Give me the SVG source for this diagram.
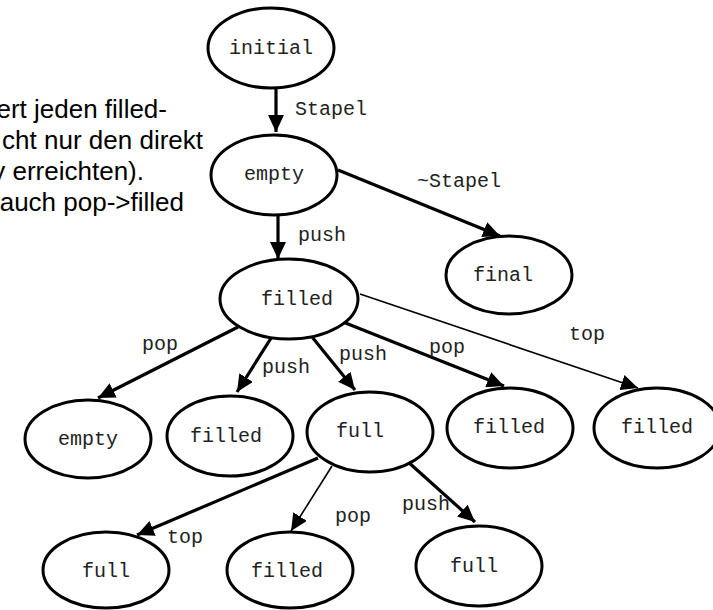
<svg xmlns="http://www.w3.org/2000/svg" width="713" height="610" viewBox="0 0 713 610">
  <style>
    .node ellipse { fill: #fff; stroke: #000; stroke-width: 3; }
    .node text, .lbl { font-family: "Liberation Mono", "Courier New", monospace; font-size: 20px; fill: #222; }
    .node text { text-anchor: middle; }
    .edge { stroke: #000; fill: none; marker-end: url(#head); }
    .thick { stroke-width: 3.2; }
    .thin { stroke-width: 1.6; }
    .note { font-family: "Liberation Sans", Arial, sans-serif; font-size: 26px; fill: #000; text-anchor: end; }
  </style>
  <defs>
    <marker id="head" markerUnits="userSpaceOnUse" markerWidth="18" markerHeight="16" refX="17" refY="8" orient="auto">
      <path d="M0,0 L17,8 L0,16 z" fill="#000"/>
    </marker>
  </defs>
  <rect width="713" height="610" fill="#fff"/>

  <!-- note text, clipped at the left edge -->
  <g id="note">
    <text class="note" x="167" y="118">ert jeden filled-</text>
    <text class="note" x="203" y="149">cht nur den direkt</text>
    <text class="note" x="144" y="180">y erreichten).</text>
    <text class="note" x="184" y="211">auch pop-&gt;filled</text>
  </g>

  <!-- connectors -->
  <g id="edges">
    <line class="edge thick" x1="276" y1="88" x2="276" y2="132"/>
    <line class="edge thick" x1="338" y1="170" x2="500" y2="236"/>
    <line class="edge thick" x1="278" y1="215" x2="278" y2="259"/>
    <line class="edge thick" x1="238" y1="327" x2="98" y2="398"/>
    <line class="edge thick" x1="273" y1="335" x2="237" y2="392"/>
    <line class="edge thick" x1="308" y1="332" x2="355" y2="390"/>
    <line class="edge thick" x1="343" y1="322" x2="504" y2="386"/>
    <line class="edge thin" x1="360" y1="294" x2="638" y2="388"/>
    <line class="edge thick" x1="318" y1="458" x2="137" y2="535"/>
    <line class="edge thin" x1="332" y1="466" x2="291" y2="531"/>
    <line class="edge thick" x1="407" y1="461" x2="475" y2="522"/>
  </g>

  <!-- connector labels -->
  <g id="edge-labels">
    <text class="lbl" x="295" y="115">Stapel</text>
    <text class="lbl" x="417" y="187">~Stapel</text>
    <text class="lbl" x="298" y="241">push</text>
    <text class="lbl" x="142" y="350">pop</text>
    <text class="lbl" x="262" y="373">push</text>
    <text class="lbl" x="339" y="360">push</text>
    <text class="lbl" x="429" y="353">pop</text>
    <text class="lbl" x="569" y="340">top</text>
    <text class="lbl" x="167" y="543">top</text>
    <text class="lbl" x="335" y="522">pop</text>
    <text class="lbl" x="402" y="510">push</text>
  </g>

  <!-- states -->
  <g id="n-initial" class="node"><ellipse cx="271" cy="48" rx="63" ry="40"/><text x="271" y="54">initial</text></g>
  <g id="n-empty" class="node"><ellipse cx="274" cy="175" rx="63" ry="40"/><text x="274" y="180">empty</text></g>
  <g id="n-final" class="node"><ellipse cx="509" cy="275" rx="63" ry="39"/><text x="503" y="281">final</text></g>
  <g id="n-filled" class="node"><ellipse cx="289" cy="299" rx="69" ry="40"/><text x="297" y="305">filled</text></g>
  <g id="n-empty2" class="node"><ellipse cx="88" cy="439" rx="63" ry="39"/><text x="88" y="445">empty</text></g>
  <g id="n-filled2" class="node"><ellipse cx="230" cy="436" rx="63" ry="40"/><text x="226" y="442">filled</text></g>
  <g id="n-full1" class="node"><ellipse cx="370" cy="432" rx="63" ry="40"/><text x="360" y="437">full</text></g>
  <g id="n-filled3" class="node"><ellipse cx="510" cy="428" rx="63" ry="40"/><text x="509" y="433">filled</text></g>
  <g id="n-filled4" class="node"><ellipse cx="657" cy="428" rx="63" ry="40"/><text x="657" y="433">filled</text></g>
  <g id="n-full2" class="node"><ellipse cx="106" cy="570" rx="63" ry="38"/><text x="106" y="577">full</text></g>
  <g id="n-filled5" class="node"><ellipse cx="290" cy="570" rx="63" ry="38"/><text x="287" y="577">filled</text></g>
  <g id="n-full3" class="node"><ellipse cx="479" cy="566" rx="63" ry="40"/><text x="474" y="572">full</text></g>
</svg>
